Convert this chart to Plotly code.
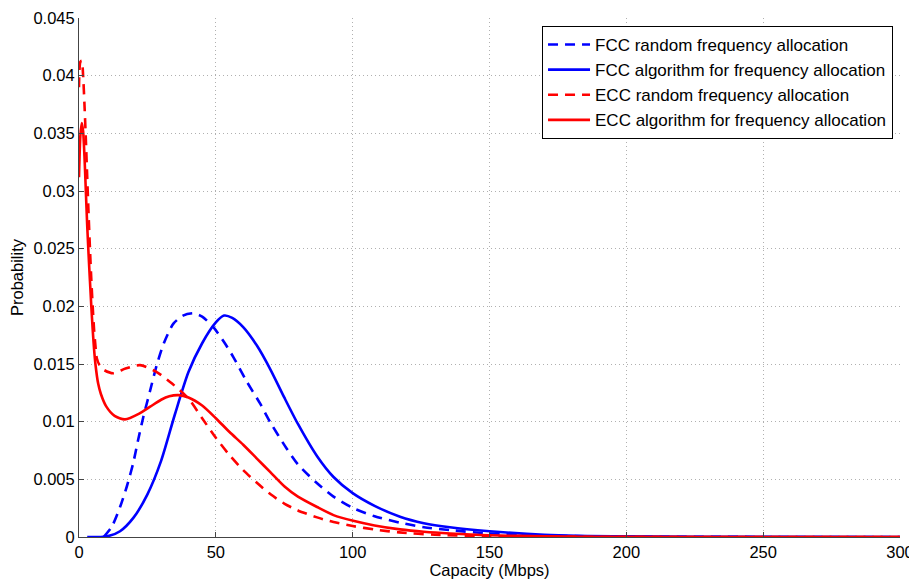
import plotly.graph_objects as go

# ---- data ----
fcc_rand_x = [9, 12, 15, 17.5, 19.8, 21.5, 23.5, 26, 28.4, 31, 34.5, 38, 41.8, 45, 49.1, 53, 56.4, 61, 66.1, 70, 75.8, 80, 86.8, 93, 100.2, 108, 117.3, 126, 135.5, 150, 170, 200, 250, 300]
fcc_rand_y = [0, 0.0009, 0.0026, 0.0044, 0.0064, 0.0083, 0.0104, 0.0127, 0.0149, 0.0168, 0.0185, 0.0192, 0.0194, 0.0191, 0.0182, 0.0169, 0.0156, 0.0136, 0.0116, 0.0099, 0.0077, 0.0063, 0.0047, 0.0035, 0.0025, 0.0018, 0.00124, 0.00085, 0.0006, 0.0003, 0.00012, 0.00003, 0.000005, 0]

fcc_alg_x = [3, 8, 11, 15, 20, 25, 30, 35, 40, 45, 50, 53, 56, 60, 65, 70, 75, 80, 87, 93, 100, 108, 117.3, 126, 135.5, 150, 170, 200, 250, 300]
fcc_alg_y = [0, 0, 0.0001, 0.0005, 0.0017, 0.0037, 0.0066, 0.0106, 0.0143, 0.0168, 0.0186, 0.0192, 0.0190, 0.0182, 0.0166, 0.0145, 0.0121, 0.0098, 0.0070, 0.0052, 0.0038, 0.0027, 0.00176, 0.00120, 0.00084, 0.0005, 0.0002, 0.00005, 0.00001, 0]

ecc_rand_x = [0, 0.5, 1, 1.5, 2, 2.5, 3, 3.5, 4, 4.5, 5, 5.5, 6, 6.5, 7.5, 9, 12.5, 17, 22.3, 28.4, 34, 40, 45, 50, 55, 60, 65, 70, 75, 80, 87, 93, 100, 108, 117, 130, 150, 180, 220, 300]
ecc_rand_y = [0.0390, 0.0412, 0.0413, 0.0400, 0.0375, 0.0345, 0.0312, 0.0280, 0.0250, 0.0223, 0.0200, 0.0180, 0.0166, 0.0155, 0.0149, 0.0145, 0.0142, 0.0146, 0.0149, 0.0143, 0.0133, 0.0120, 0.0103, 0.0086, 0.0071, 0.0058, 0.0047, 0.0037, 0.0029, 0.0023, 0.0017, 0.0013, 0.00095, 0.00065, 0.0004, 0.0002, 0.00006, 0.00001, 0, 0]

ecc_alg_x = [0, 0.5, 1, 1.5, 2, 2.5, 3, 3.5, 4, 4.5, 5, 5.5, 6, 7, 8, 10, 13, 16.8, 22, 26, 30, 33, 36.3, 40, 45, 50, 55, 60, 65, 70, 75, 80, 87, 93, 100.2, 108, 117.3, 126, 135.6, 150, 170, 200, 250, 300]
ecc_alg_y = [0.0312, 0.0348, 0.0359, 0.0352, 0.0330, 0.0300, 0.0270, 0.0245, 0.0222, 0.0200, 0.0180, 0.0163, 0.0150, 0.0133, 0.0124, 0.0113, 0.0105, 0.0102, 0.0107, 0.0113, 0.0119, 0.0122, 0.0123, 0.0121, 0.0114, 0.0103, 0.0091, 0.0080, 0.0068, 0.0056, 0.0044, 0.0035, 0.0026, 0.0019, 0.0014, 0.0010, 0.00066, 0.00045, 0.0003, 0.00015, 0.00006, 0.00001, 0, 0]

x_ticks = [0, 50, 100, 150, 200, 250, 300]
y_ticks = [0, 0.005, 0.01, 0.015, 0.02, 0.025, 0.03, 0.035, 0.04, 0.045]
y_tick_text = ["0", "0.005", "0.01", "0.015", "0.02", "0.025", "0.03", "0.035", "0.04", "0.045"]

fig = go.Figure()
series = [
    ("FCC random frequency allocation", fcc_rand_x, fcc_rand_y, "#0000ff", "10px,7px"),
    ("FCC algorithm for frequency allocation", fcc_alg_x, fcc_alg_y, "#0000ff", "solid"),
    ("ECC random frequency allocation", ecc_rand_x, ecc_rand_y, "#ff0000", "10px,7px"),
    ("ECC algorithm for frequency allocation", ecc_alg_x, ecc_alg_y, "#ff0000", "solid"),
]
for name, xs, ys, col, dash in series:
    fig.add_trace(go.Scatter(x=xs, y=ys, mode="lines", name=name,
                             line=dict(color=col, width=2.6, dash=dash, shape="spline", smoothing=0.7)))

FONT = "Liberation Sans, Arial, sans-serif"
# page body has an 8px default margin, so the figure is 909x572 and offsets are reduced by 8
fig.update_layout(
    width=909, height=572,
    margin=dict(l=71, r=17, t=10, b=43),
    paper_bgcolor="white", plot_bgcolor="white",
    font=dict(family=FONT, size=16.5, color="#000000"),
    showlegend=True,
    legend=dict(x=0.9915, y=0.9846, xanchor="right", yanchor="top",
                bgcolor="white", bordercolor="#000000", borderwidth=1,
                font=dict(family=FONT, size=17),
                tracegroupgap=0, itemwidth=42),
    xaxis=dict(range=[0, 300], tickvals=x_ticks, ticks="inside", ticklen=5, tickcolor="#444",
               showline=True, linecolor="#444", linewidth=1, mirror=False,
               showgrid=True, gridcolor="#b0b0b0", griddash="1px,3px", gridwidth=1,
               zeroline=False, automargin=False,
               tickfont=dict(size=16.5),
               title=dict(text="Capacity (Mbps)", font=dict(size=16.5), standoff=2)),
    yaxis=dict(range=[0, 0.045], tickvals=y_ticks, ticktext=y_tick_text, ticks="inside", ticklen=5, tickcolor="#444",
               showline=True, linecolor="#444", linewidth=1, mirror=False,
               showgrid=True, gridcolor="#b0b0b0", griddash="1px,3px", gridwidth=1,
               zeroline=False, automargin=False,
               tickfont=dict(size=16.5),
               title=dict(text="Probability", font=dict(size=16.5), standoff=6)),
)
fig.write_html("out.html")
